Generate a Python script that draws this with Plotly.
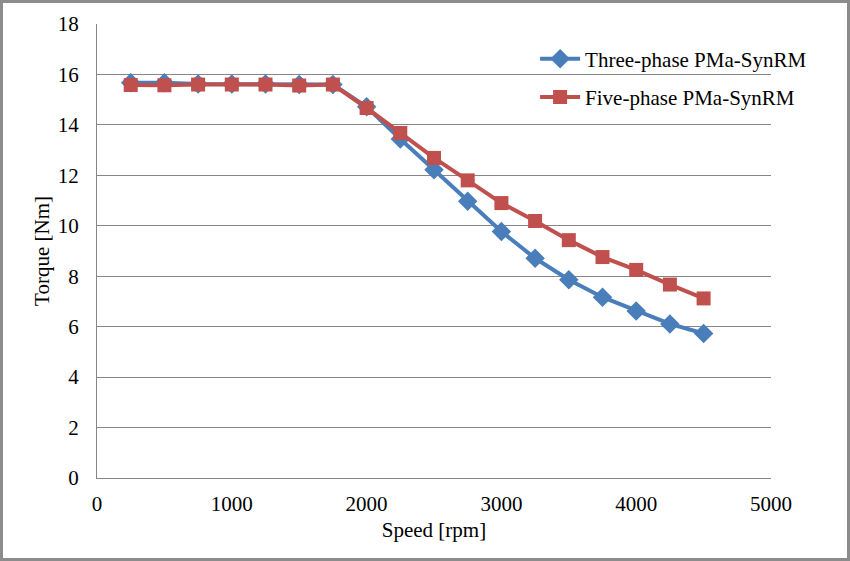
import plotly.graph_objects as go

speed = [250, 500, 750, 1000, 1250, 1500, 1750, 2000, 2250, 2500, 2750,
         3000, 3250, 3500, 3750, 4000, 4250, 4500]
three_phase = [15.67, 15.67, 15.62, 15.62, 15.62, 15.6, 15.6, 14.72, 13.44, 12.22, 10.97,
               9.77, 8.71, 7.86, 7.17, 6.62, 6.11, 5.73]
five_phase = [15.58, 15.57, 15.6, 15.6, 15.6, 15.56, 15.6, 14.67, 13.68, 12.69, 11.8,
              10.9, 10.19, 9.43, 8.76, 8.25, 7.67, 7.12]
x_ticks = [0, 1000, 2000, 3000, 4000, 5000]
y_ticks = [0, 2, 4, 6, 8, 10, 12, 14, 16, 18]

W, H = 850, 561
ML, MR, MT, MB = 97, 79, 24, 83
FONT = "Liberation Serif, Times New Roman, serif"
FS = 21

fig = go.Figure()
fig.add_trace(go.Scatter(
    x=speed, y=three_phase, name="Three-phase PMa-SynRM", mode="lines+markers",
    legendgroup="a",
    line=dict(color="#4A7EBB", width=4),
    marker=dict(symbol="diamond", size=15, color="#4A7EBB"),
))
fig.add_trace(go.Scatter(
    x=speed, y=five_phase, name="Five-phase PMa-SynRM", mode="lines+markers",
    legendgroup="b",
    line=dict(color="#C0504D", width=4),
    marker=dict(symbol="square", size=14, color="#C0504D"),
))

pw = W - ML - MR
ph = H - MT - MB
fig.add_shape(type="rect", xref="paper", yref="paper",
              x0=-(ML - 1.5) / pw, x1=1 + (MR - 1.5) / pw,
              y0=-(MB - 1.5) / ph, y1=1 + (MT - 1.5) / ph,
              line=dict(color="#8C8C8C", width=3), layer="below")

fig.update_layout(
    width=W, height=H,
    margin=dict(l=ML, r=MR, t=MT, b=MB, autoexpand=False),
    paper_bgcolor="white", plot_bgcolor="white",
    font=dict(family=FONT, size=FS, color="black"),
    showlegend=True,
    legend=dict(x=0.65, y=0.968, xanchor="left", yanchor="top",
                bgcolor="rgba(0,0,0,0)", font=dict(size=FS, family=FONT),
                tracegroupgap=8, itemwidth=40),
    xaxis=dict(range=[0, 5000], tickvals=x_ticks, showgrid=False,
               showline=True, linecolor="#868686", linewidth=1,
               ticks="", ticklabelstandoff=7, zeroline=False,
               title=dict(text="Speed [rpm]", standoff=7,
                          font=dict(size=FS, family=FONT))),
    yaxis=dict(range=[0, 18], tickvals=y_ticks, showgrid=True,
               gridcolor="#868686", gridwidth=1,
               showline=True, linecolor="#868686", linewidth=1,
               ticks="", ticklabelstandoff=13, zeroline=False,
               title=dict(text="Torque [Nm]", standoff=2,
                          font=dict(size=FS, family=FONT))),
)

fig.write_html("out.html", config={"displayModeBar": False},
               post_script="document.body.style.margin='0';document.body.style.overflow='hidden';")
